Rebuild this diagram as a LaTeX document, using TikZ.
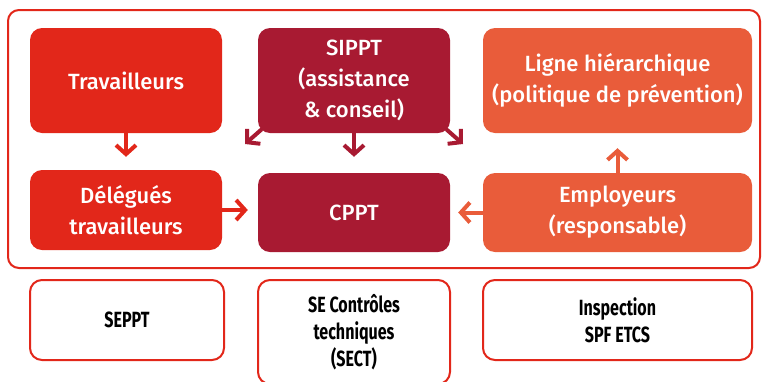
\documentclass[tikz,border=0pt]{standalone}
\usepackage{fontspec}
\setmainfont{Fira Sans}
\newfontfamily\medfont{Fira Sans Medium}
\newfontfamily\condfont[FakeStretch=0.73]{Fira Sans Bold}
\usetikzlibrary{arrows.meta,positioning}
\definecolor{rougeA}{HTML}{E2271A}
\definecolor{bordeaux}{HTML}{A81A32}
\definecolor{orangeA}{HTML}{E95C3A}

\begin{document}
\begin{tikzpicture}[x=1pt, y=-1pt,
  box/.style={rectangle, rounded corners=12pt, text=white, align=center,
    font=\medfont\fontsize{22}{31}\selectfont, inner sep=0pt},
  outbox/.style={draw=rougeA, line width=2pt, fill=white, rectangle, rounded corners=12pt,
    align=center, font=\condfont\fontsize{22}{27}\selectfont, inner sep=0pt},
  arr/.style={line width=4pt, -{Straight Barb[length=9pt,width=20pt,line width=4pt]}}]
\useasboundingbox (0,0) rectangle (766,381);

% Outer frame
\draw[rougeA, line width=2pt, rounded corners=11pt] (8,10) rectangle (760,268);

% Top row
\node[box, fill=rougeA, minimum width=192pt, minimum height=105pt] (trav) at (126,80.5) {Travailleurs};
\node[box, fill=bordeaux, minimum width=192pt, minimum height=105pt] (sippt) at (354,80.5) {SIPPT\\(assistance\\\& conseil)};
\node[box, fill=orangeA, minimum width=269pt, minimum height=105pt] (ligne) at (617.5,80.5) {Ligne hiérarchique\\(politique de prévention)};

% Middle row
\node[box, fill=rougeA, minimum width=192pt, minimum height=80pt] (deleg) at (126,210) {Délégués\\travailleurs};
\node[box, fill=bordeaux, minimum width=192pt, minimum height=79pt] (cppt) at (354,212.5) {CPPT};
\node[box, fill=orangeA, minimum width=269pt, minimum height=79pt] (empl) at (617.5,212.5) {Employeurs\\(responsable)};

% Arrows
\coordinate (sipptL) at (245,144);
\coordinate (sipptR) at (463,144);
\draw[arr, rougeA, shorten >=13pt] (trav) -- (deleg);
\draw[arr, rougeA, shorten >=10pt] (deleg.east) -- (cppt.west |- deleg.east);
\draw[arr, bordeaux, shorten >=16pt] (sippt) -- (cppt);
\draw[arr, bordeaux] (sippt.south west) ++(4,-4) -- (sipptL);
\draw[arr, bordeaux] (sippt.south east) ++(-4,-4) -- (sipptR);
\draw[arr, orangeA, shorten >=8pt] (empl) -- (cppt);
\draw[arr, orangeA, shorten >=15pt] (empl) -- (ligne);

% Bottom row
\node[outbox, minimum width=194pt, minimum height=80pt] (seppt) at (127,320) {SEPPT};
\node[outbox, minimum width=192pt, minimum height=104pt] (sect) at (354,332) {SE Contrôles\\techniques\\(SECT)};
\node[outbox, minimum width=269pt, minimum height=80pt] (insp) at (617.5,320) {Inspection\\SPF ETCS};
\end{tikzpicture}
\end{document}
